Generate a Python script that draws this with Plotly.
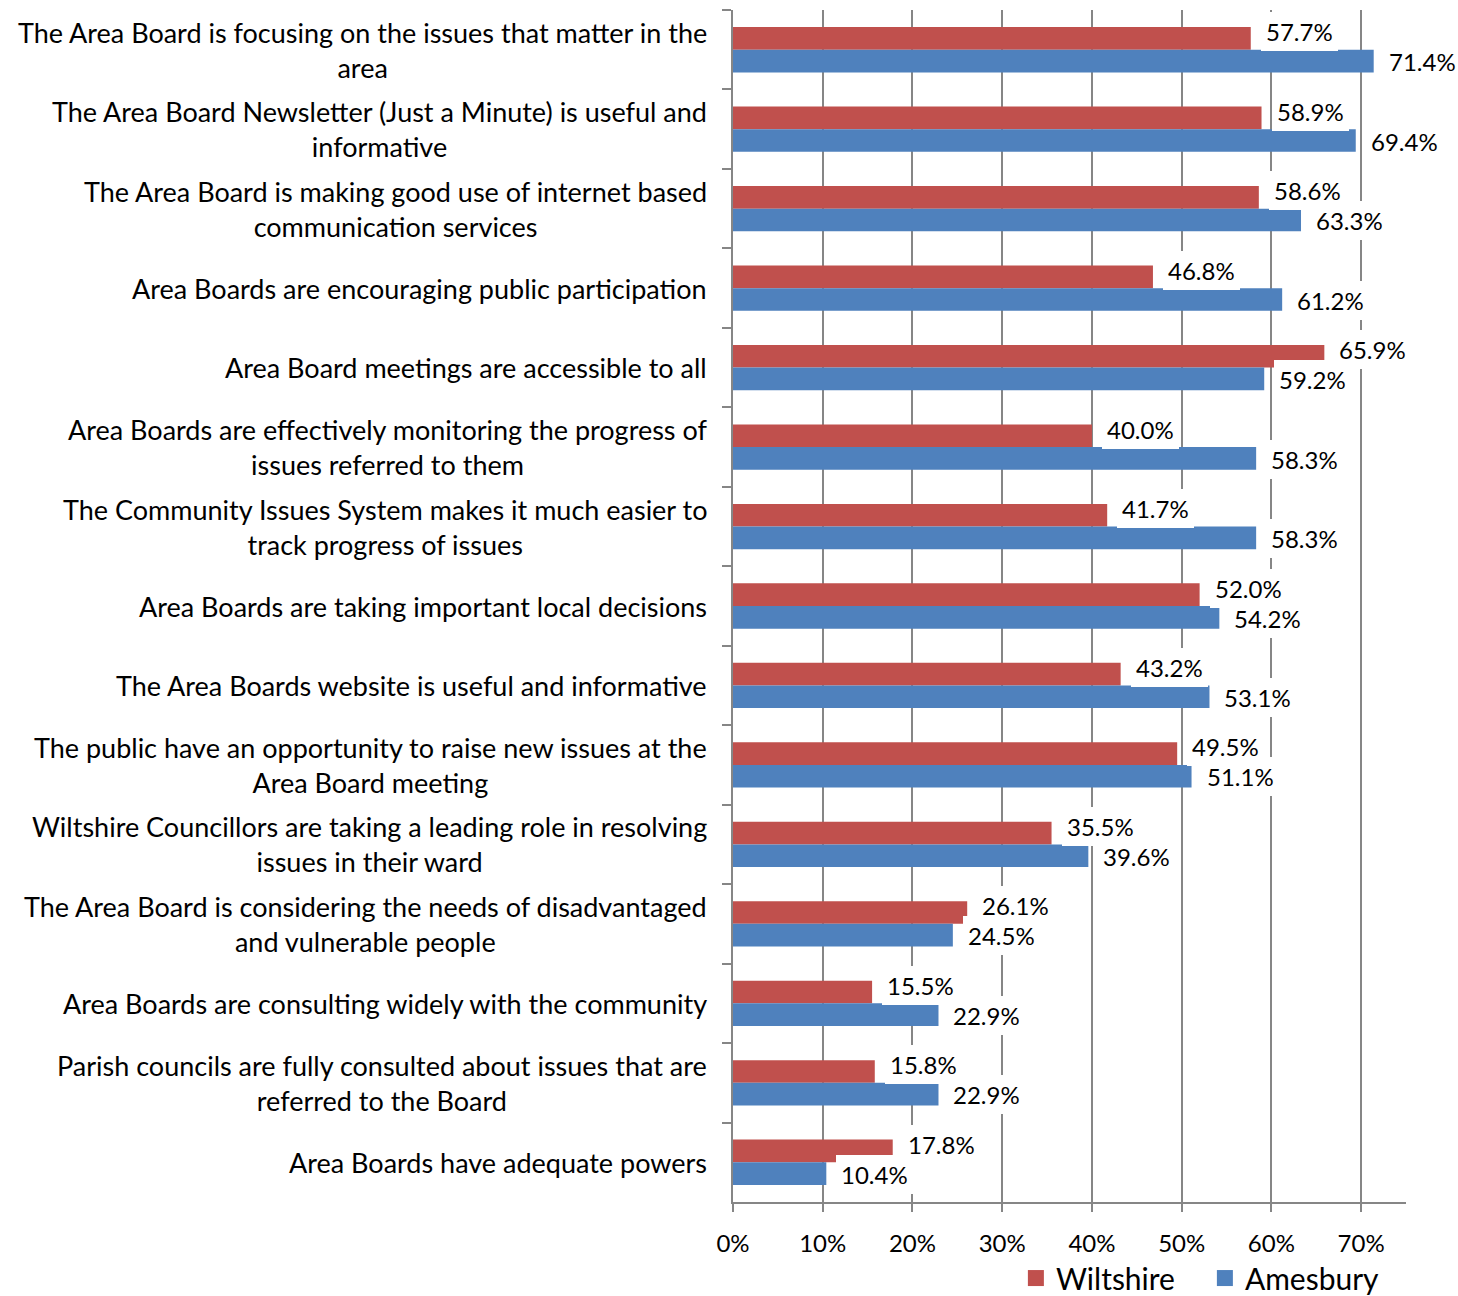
import plotly.graph_objects as go

categories = [
    "The Area Board is focusing on the issues that matter in the<br>area",
    "The Area Board Newsletter (Just a Minute) is useful and<br>informative",
    "The Area Board is making good use of internet based<br>communication services",
    "Area Boards are encouraging public participation",
    "Area Board meetings are accessible to all",
    "Area Boards are effectively monitoring the progress of<br>issues referred to them",
    "The Community Issues System makes it much easier to<br>track progress of issues",
    "Area Boards are taking important local decisions",
    "The Area Boards website is useful and informative",
    "The public have an opportunity to raise new issues at the<br>Area Board meeting",
    "Wiltshire Councillors are taking a leading role in resolving<br>issues in their ward",
    "The Area Board is considering the needs of disadvantaged<br>and vulnerable people",
    "Area Boards are consulting widely with the community",
    "Parish councils are fully consulted about issues that are<br>referred to the Board",
    "Area Boards have adequate powers",
]
wiltshire = [57.7, 58.9, 58.6, 46.8, 65.9, 40.0, 41.7, 52.0, 43.2, 49.5, 35.5, 26.1, 15.5, 15.8, 17.8]
amesbury = [71.4, 69.4, 63.3, 61.2, 59.2, 58.3, 58.3, 54.2, 53.1, 51.1, 39.6, 24.5, 22.9, 22.9, 10.4]
series_names = ["Wiltshire", "Amesbury"]
x_ticks = [0, 10, 20, 30, 40, 50, 60, 70]
x_tick_labels = [f"{t}%" for t in x_ticks]

RED = "#C0504D"
BLUE = "#4F81BD"
GRID = "#868686"
FONT = "Lato, 'Open Sans', sans-serif"

fig = go.Figure()
for name, vals, col in ((series_names[0], wiltshire, RED), (series_names[1], amesbury, BLUE)):
    fig.add_trace(go.Bar(y=categories, x=vals, name=name, orientation="h", showlegend=False,
                         marker=dict(color=col, line=dict(width=0))))
# legend entries (square swatches)
for name, col in ((series_names[0], RED), (series_names[1], BLUE)):
    fig.add_trace(go.Scatter(x=[None], y=[None], name=name, mode="markers",
                             marker=dict(symbol="square", size=17, color=col)))

annotations = []
# category labels (centered multi-line, right-anchored to the axis)
for c in categories:
    annotations.append(dict(xref="paper", x=0, xanchor="right", xshift=-24,
                            yref="y", y=c, yanchor="middle", text=c, align="center",
                            showarrow=False, font=dict(family=FONT, size=27, color="#000")))
# data labels
for vals, ys in ((wiltshire, 18), (amesbury, -12)):
    for c, v in zip(categories, vals):
        annotations.append(dict(xref="x", x=v, yref="y", y=c, xanchor="left", yanchor="middle",
                                xshift=10, yshift=ys, text=f"{v:.1f}%", showarrow=False,
                                bgcolor="white", borderpad=5, borderwidth=0,
                                font=dict(family=FONT, size=24, color="#000")))

fig.update_layout(
    width=1458, height=1296,
    margin=dict(l=733, r=52, t=10, b=94, autoexpand=False),
    paper_bgcolor="white", plot_bgcolor="white",
    barmode="group", bargap=0.43, bargroupgap=0,
    font=dict(family=FONT, size=24, color="#000"),
    annotations=annotations,
    showlegend=True,
    legend=dict(orientation="h", x=0.982, xanchor="right", xref="paper",
                y=-0.0638, yanchor="middle", yref="paper",
                font=dict(family=FONT, size=30, color="#000"), traceorder="normal",
                itemwidth=30, entrywidth=144, bgcolor="rgba(0,0,0,0)", itemsizing="trace"),
)
fig.update_xaxes(range=[0, 75], tickvals=x_ticks, ticktext=x_tick_labels,
                 showgrid=True, gridcolor=GRID, gridwidth=2, zeroline=False,
                 showline=True, linecolor=GRID, linewidth=2,
                 ticks="outside", ticklen=8, tickcolor=GRID, tickwidth=2,
                 ticklabelstandoff=11, tickfont=dict(family=FONT, size=24, color="#000"))
fig.update_yaxes(autorange="reversed", type="category", showticklabels=False,
                 showgrid=False, showline=True, linecolor=GRID, linewidth=2,
                 ticks="outside", ticklen=9, tickcolor=GRID, tickwidth=2,
                 tickson="boundaries")

fig.write_html("out.html", config={"displayModeBar": False},
               post_script="document.body.style.margin='0';")
